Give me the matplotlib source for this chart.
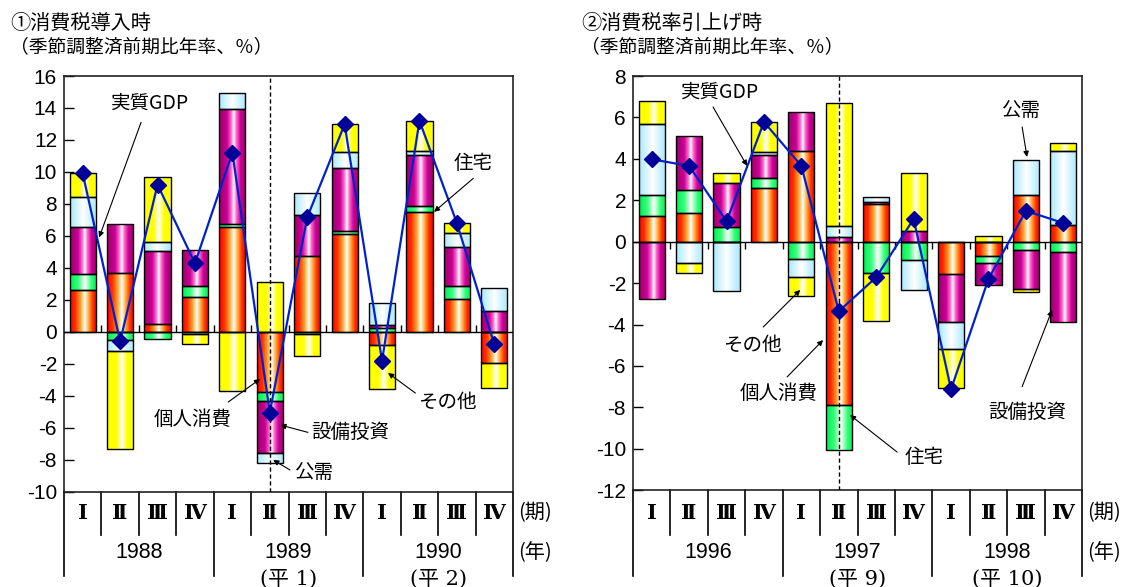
import numpy as np
import matplotlib.pyplot as plt
import matplotlib.transforms as mtransforms
from matplotlib.colors import LinearSegmentedColormap

plt.rcParams['font.family'] = ['Liberation Sans', 'Noto Sans CJK JP']
plt.rcParams['axes.unicode_minus'] = False
JP = ['Noto Sans CJK JP', 'DejaVu Sans']

# ---- data ----
components = ['個人消費', '住宅', '設備投資', '公需', 'その他']
quarters = ['Ⅰ', 'Ⅱ', 'Ⅲ', 'Ⅳ']

# ① 消費税導入時 1988 I - 1990 IV
years1 = ['1988', '1989', '1990']
heisei1 = ['', '(平 1)', '(平 2)']
cons1 = [2.6, 3.7, 0.46, 2.17, 6.53, -3.78, 4.75, 6.1, -0.83, 7.46, 2.04, -1.94]
house1 = [1.0, -0.55, -0.48, 0.71, 0.21, -0.58, -0.17, 0.17, 0.2, 0.41, 0.79, 0.0]
capex1 = [2.93, 3.04, 4.57, 2.26, 7.21, -3.25, 2.55, 4.0, 0.25, 3.16, 2.44, 1.27]
public1 = [1.87, -0.66, 0.61, -0.17, 1.0, -0.6, 1.4, 0.98, 1.37, 0.27, 0.92, 1.46]
other1 = [1.5, -6.15, 4.05, -0.63, -3.72, 3.11, -1.33, 1.73, -2.77, 1.88, 0.6, -1.56]
gdp1 = [9.9, -0.6, 9.2, 4.28, 11.2, -5.06, 7.15, 12.98, -1.83, 13.2, 6.8, -0.79]

# ② 消費税率引上げ時 1996 I - 1998 IV
years2 = ['1996', '1997', '1998']
heisei2 = ['', '(平 9)', '(平 10)']
cons2 = [1.25, 1.4, 0.0, 2.57, 4.4, -7.9, 1.82, 0.0, -1.56, -0.71, 2.27, 0.82]
house2 = [1.01, 1.1, 0.69, 0.5, -0.84, -2.17, -1.51, -0.87, 0.0, -0.32, -0.42, -0.51]
capex2 = [-2.76, 2.62, 2.14, 1.12, 1.85, 0.22, 0.12, 0.53, -2.33, -1.04, -1.86, -3.35]
public2 = [3.43, -1.05, -2.36, 0.16, -0.86, 0.52, 0.24, -1.44, -1.31, 0.0, 1.65, 3.58]
other2 = [1.09, -0.48, 0.51, 1.43, -0.93, 5.97, -2.33, 2.81, -1.88, 0.26, -0.13, 0.35]
gdp2 = [3.98, 3.66, 0.98, 5.78, 3.66, -3.36, -1.72, 1.1, -7.13, -1.8, 1.49, 0.9]

# ---- styles: horizontal gradient of each component ----
grad_stops = {
    '個人消費': [(0, '#FF0000'), (0.2, '#FF3300'), (0.4, '#FFAA33'), (0.55, '#FFFFFF'),
             (0.7, '#FFAA33'), (0.85, '#FF3300'), (1, '#EE0000')],
    '住宅': [(0, '#00EE55'), (0.3, '#33FF77'), (0.55, '#FFFFFF'), (0.8, '#33FF77'), (1, '#00EE55')],
    '設備投資': [(0, '#990066'), (0.3, '#CC0099'), (0.45, '#FF66CC'), (0.55, '#FFFFFF'),
             (0.65, '#FF66CC'), (0.8, '#CC0099'), (1, '#990066')],
    '公需': [(0, '#A8E8FF'), (0.5, '#FFFFFF'), (1, '#A8E8FF')],
    'その他': [(0, '#FFFF00'), (0.35, '#FFFF00'), (0.55, '#FFFFFF'), (0.75, '#FFFF00'), (1, '#FFFF00')],
}
grads = {}
for k, stops in grad_stops.items():
    cm = LinearSegmentedColormap.from_list(k, stops)
    grads[k] = cm(np.linspace(0, 1, 128))[:, :3][None, :, :]

W, H = 1125, 587
fig = plt.figure(figsize=(W / 100, H / 100), dpi=100)


def fy(py):
    return 1 - py / H


def draw_panel(rect_px, values, gdp, ylim, years, heisei, mark_len, notes, title1, title_x):
    x0, top, x1, bot = rect_px
    ax = fig.add_axes([x0 / W, fy(bot), (x1 - x0) / W, (bot - top) / H])
    x = np.arange(12)
    pos = np.zeros(12)
    neg = np.zeros(12)
    for name, v in zip(components, values):
        v = np.array(v, dtype=float)
        bottom = np.where(v >= 0, pos, neg)
        bars = ax.bar(x, v, bottom=bottom, width=0.7, facecolor='none',
                      edgecolor='black', lw=1.0, zorder=3)
        pos += np.clip(v, 0, None)
        neg += np.clip(v, None, 0)
        for p in bars:
            h = p.get_height()
            if h == 0:
                continue
            bx, by, bw = p.get_x(), p.get_y(), p.get_width()
            im = ax.imshow(grads[name], extent=[bx, bx + bw, min(by, by + h), max(by, by + h)],
                           aspect='auto', zorder=2, interpolation='bilinear')
            im.set_clip_path(p)

    ax.axhline(0, color='black', lw=1.0, zorder=4)
    ax.vlines(np.arange(0.5, 11.5, 1), 0, mark_len, color='black', lw=1.0, zorder=1)
    ax.axvline(5, color='black', ls=(0, (3, 2)), lw=1.0, zorder=5)
    ax.plot(x, gdp, color='#0022CC', lw=1.6, marker='D', ms=8,
            mfc='#000099', mec='#000099', zorder=6)

    ax.set_xlim(-0.5, 11.5)
    ax.set_ylim(*ylim)
    ax.set_yticks(np.arange(ylim[0], ylim[1] + 1, 2))
    ax.set_xticks([])
    ax.tick_params(axis='y', direction='in', length=7, width=1, labelsize=15, pad=5)
    for s in ax.spines.values():
        s.set_linewidth(1.2)
        s.set_color('#222222')

    for txt, tx, ty, sx, sy, ex, ey in notes:
        ax.text(tx, ty, txt, ha='center', va='center', fontsize=14, family=JP, zorder=7)
        ax.annotate('', xy=(ex, ey), xytext=(sx, sy),
                    arrowprops=dict(arrowstyle='-|>', lw=0.8, color='black',
                                    shrinkA=0, shrinkB=0, mutation_scale=8), zorder=7)

    # category table below the axis
    tr = mtransforms.blended_transform_factory(ax.transData, fig.transFigure)
    for b in np.arange(-0.5, 12, 1):
        end = 576 if b in (-0.5, 3.5, 7.5, 11.5) else 535
        ax.plot([b, b], [fy(bot), fy(end)], transform=tr, clip_on=False, color='black', lw=1.2)
    for i in range(12):
        ax.text(i, fy(513), quarters[i % 4], transform=tr, ha='center', va='center',
                fontsize=15, weight='bold', family=['DejaVu Serif'])
    for k in range(3):
        ax.text(1.5 + 4 * k, fy(553), years[k], transform=tr, ha='center', va='center', fontsize=15.5)
        if heisei[k]:
            ax.text(1.5 + 4 * k, fy(579), heisei[k], transform=tr, ha='center', va='center',
                    fontsize=15, family=['DejaVu Serif', 'Noto Sans CJK JP'])
    fig.text((x1 + 5) / W, fy(513), '(期)', ha='left', va='center', fontsize=14.5, family=JP)
    fig.text((x1 + 5) / W, fy(553), '(年)', ha='left', va='center', fontsize=14.5, family=JP)

    fig.text(title_x / W, fy(23), title1, ha='left', va='center', fontsize=14.5, family=JP)
    fig.text(title_x / W, fy(47), '（季節調整済前期比年率、％）', ha='left', va='center',
             fontsize=13.5, family=JP)
    return ax


notes1 = [
    ('実質GDP', 1.80, 14.3, 1.56, 13.1, 0.44, 5.9),
    ('住宅', 10.44, 10.55, 10.44, 9.6, 9.39, 7.5),
    ('個人消費', 2.95, -5.5, 3.89, -4.4, 4.74, -2.96),
    ('設備投資', 7.15, -6.3, 6.02, -6.3, 5.28, -5.84),
    ('公需', 6.16, -8.78, 5.54, -8.65, 5.09, -8.03),
    ('その他', 9.74, -4.4, 8.89, -3.84, 8.16, -2.58),
]
notes2 = [
    ('実質GDP', 1.83, 7.23, 1.64, 6.5, 2.55, 3.66),
    ('公需', 9.87, 6.36, 9.9, 5.54, 10.03, 4.09),
    ('その他', 2.68, -5.0, 2.98, -4.12, 3.97, -2.33),
    ('個人消費', 3.4, -7.31, 3.62, -6.53, 4.58, -4.75),
    ('住宅', 7.28, -10.4, 6.56, -10.16, 5.3, -8.37),
    ('設備投資', 10.03, -8.27, 9.9, -7.0, 10.7, -3.3),
]

draw_panel((64, 76, 513, 491.5), [cons1, house1, capex1, public1, other1], gdp1,
           (-10, 16), years1, heisei1, 0.44, notes1, '①消費税導入時', 10)
draw_panel((633, 76, 1082, 490.2), [cons2, house2, capex2, public2, other2], gdp2,
           (-12, 8), years2, heisei2, -0.34, notes2, '②消費税率引上げ時', 581)

fig.savefig('out.png', dpi=100)
